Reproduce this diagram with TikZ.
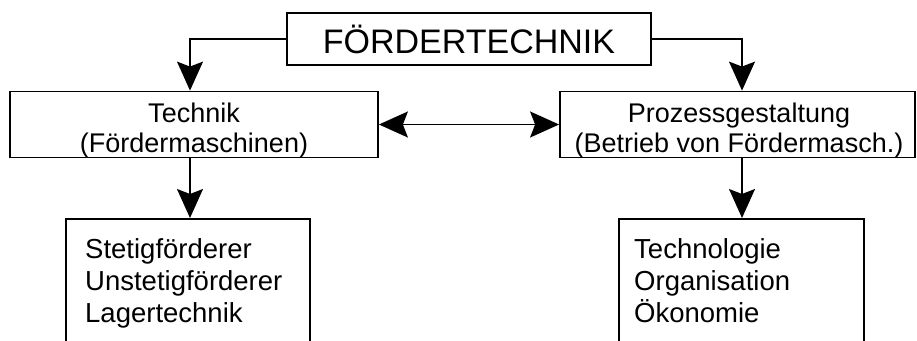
\documentclass[tikz,border=0pt]{standalone}
\usepackage{fontspec}
\setmainfont{Liberation Sans}
\usetikzlibrary{arrows.meta,calc}
\begin{document}
\begin{tikzpicture}[x=1pt,y=-1pt,
  box/.style={draw, line width=1.8pt, inner sep=0pt},
  head/.tip={Stealth[length=29pt,width=26pt,inset=5pt]},
  conn/.style={line width=1.7pt, -head},
  thinconn/.style={line width=1.3pt, -head},
  dblconn/.style={line width=1.7pt, head-head},
  mid/.style={font=\fontsize{27}{30}\selectfont, align=center, inner sep=0pt},
  list/.style={font=\fontsize{27.5}{32}\selectfont, align=left, anchor=north west, inner sep=0pt}]
\useasboundingbox (0,0) rectangle (917,340);
\clip (0,0) rectangle (917,340);
\node[box, minimum width=364pt, minimum height=52pt, font=\fontsize{34}{40}\selectfont] (top) at (469,39) {FÖRDERTECHNIK};
\node[box, minimum width=368pt, minimum height=66pt] (tech) at (194,124.5) {};
\node[box, minimum width=355pt, minimum height=66pt] (proz) at (737.5,124.5) {};
\node[mid] (techt) at (194,131) {Technik\\(Fördermaschinen)};
\node[mid] (prozt) at (739,131) {Prozessgestaltung\\(Betrieb von Fördermasch.)};
\node[box, anchor=north west, minimum width=244pt, minimum height=150pt] (sl) at (65,218) {};
\node[box, anchor=north west, minimum width=245pt, minimum height=150pt] (sr) at (618,218) {};
\node[list] (slt) at (85,238) {Stetigförderer\\Unstetigförderer\\Lagertechnik};
\node[list] (srt) at (634,238) {Technologie\\Organisation\\Ökonomie};
\draw[thinconn] (top.west) -| ([xshift=-4pt]tech.north);
\draw[thinconn] (top.east) -| ([xshift=4.5pt]proz.north);
\draw[dblconn] (tech.east) -- (proz.west);
\draw[conn] ([xshift=-4pt]tech.south) -- ([xshift=-4pt]tech.south |- sl.north);
\draw[conn] ([xshift=4.5pt]proz.south) -- ([xshift=4.5pt]proz.south |- sr.north);
\end{tikzpicture}
\end{document}
